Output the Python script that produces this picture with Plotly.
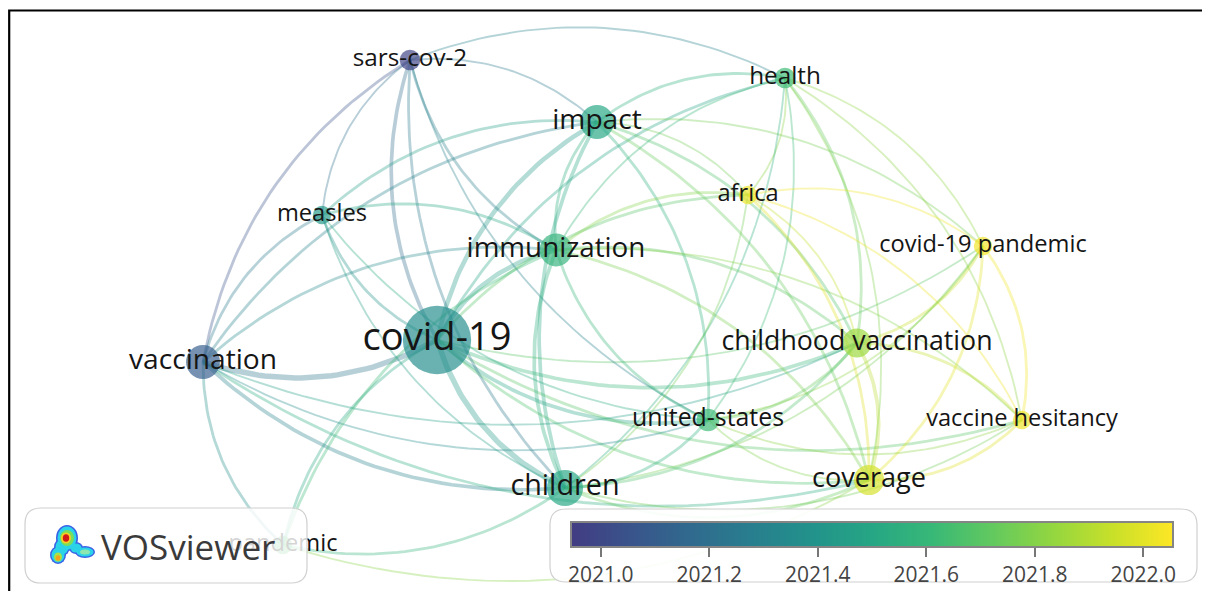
import numpy as np
import plotly.graph_objects as go
from plotly.colors import sample_colorscale

# ---------------- data ----------------
keywords = ["sars-cov-2", "health", "impact", "africa", "measles", "covid-19 pandemic",
            "immunization", "covid-19", "childhood vaccination", "vaccination",
            "united-states", "vaccine hesitancy", "coverage", "children", "pandemic"]
map_x = [410, 785, 597, 748, 322, 983, 556, 437, 857, 203, 708, 1022, 869, 565, 283]
map_y = [60, 78, 122, 195, 215, 246, 250, 340, 343, 362, 420, 420, 480, 488, 545]
occurrences = [4, 4, 13, 3, 3, 3, 12, 60, 9, 13, 5, 3, 10, 15, 3]
avg_pub_year = [2020.98, 2021.62, 2021.5, 2022.02, 2021.42, 2022.03, 2021.58, 2021.36,
                2021.85, 2021.1, 2021.62, 2022.02, 2021.97, 2021.5, 2021.66]

edge_from = ["covid-19"] * 14 + ["vaccination"] * 9 + ["sars-cov-2"] * 6 + ["impact"] * 9 \
    + ["health"] * 8 + ["immunization"] * 8 + ["africa"] * 5 + ["covid-19 pandemic"] * 5 \
    + ["childhood vaccination"] * 4 + ["vaccine hesitancy"] * 3 + ["coverage"] * 3 \
    + ["children"] * 2 + ["measles"] * 2
edge_to = ["sars-cov-2", "impact", "measles", "immunization", "vaccination", "children",
           "united-states", "childhood vaccination", "coverage", "health", "africa",
           "pandemic", "vaccine hesitancy", "covid-19 pandemic",
           "sars-cov-2", "measles", "impact", "immunization", "children", "coverage",
           "pandemic", "united-states", "childhood vaccination",
           "impact", "immunization", "children", "health", "united-states", "measles",
           "health", "immunization", "children", "measles", "united-states", "africa",
           "childhood vaccination", "coverage", "covid-19 pandemic",
           "immunization", "africa", "childhood vaccination", "coverage",
           "covid-19 pandemic", "vaccine hesitancy", "children", "united-states",
           "children", "united-states", "measles", "childhood vaccination", "coverage",
           "africa", "pandemic", "vaccine hesitancy",
           "childhood vaccination", "coverage", "covid-19 pandemic", "children",
           "vaccine hesitancy",
           "childhood vaccination", "coverage", "vaccine hesitancy", "children",
           "united-states",
           "coverage", "vaccine hesitancy", "united-states", "children",
           "coverage", "children", "united-states",
           "children", "united-states", "pandemic",
           "united-states", "pandemic",
           "united-states", "children"]
edge_weight = [3, 4, 2, 4, 5, 5, 3, 3, 2, 2, 2, 2, 2, 1,
               2, 2, 2, 2, 3, 2, 2, 1, 1,
               1, 2, 2, 1, 1, 1,
               2, 2, 3, 2, 2, 1, 2, 2, 1,
               1, 1, 2, 1, 1, 1, 1, 1,
               3, 2, 2, 2, 2, 2, 2, 1,
               1, 2, 1, 1, 1,
               2, 2, 2, 1, 1,
               3, 2, 2, 2,
               2, 1, 1,
               2, 1, 1,
               2, 2,
               1, 1]

colorbar_ticks = [2021.0, 2021.2, 2021.4, 2021.6, 2021.8, 2022.0]
colorbar_ticktext = ["2021.0", "2021.2", "2021.4", "2021.6", "2021.8", "2022.0"]

# ---------------- styling ----------------
CMIN, CMAX = 2020.945, 2022.055
W, H = 1210, 591
OFF = 8  # page body margin: data coords == page pixels
vir_pos = np.linspace(0.18, 1.0, 11)
vir_cols = sample_colorscale("Viridis", list(vir_pos))
cscale = [[float(i / 10), c] for i, c in enumerate(vir_cols)]


def color_for(year, alpha):
    s = min(max((year - CMIN) / (CMAX - CMIN), 0), 1)
    c = sample_colorscale(cscale, [s])[0]
    rgb = c[c.index("(") + 1:c.index(")")].split(",")
    r, g, b = [int(float(v)) for v in rgb]
    return f"rgba({r},{g},{b},{alpha})"


idx = {k: i for i, k in enumerate(keywords)}
center = np.array([610.0, 300.0])

fig = go.Figure()

# edges (curved)
t = np.linspace(0, 1, 40)
for a, b, w in zip(edge_from, edge_to, edge_weight):
    i, j = idx[a], idx[b]
    p0 = np.array([map_x[i], map_y[i]], float)
    p2 = np.array([map_x[j], map_y[j]], float)
    d = p2 - p0
    L = np.hypot(*d)
    n = np.array([-d[1], d[0]]) / L
    m = (p0 + p2) / 2
    if np.dot(m - center, n) < 0:
        n = -n
    p1 = m + n * 0.22 * L
    xs = (1 - t) ** 2 * p0[0] + 2 * (1 - t) * t * p1[0] + t ** 2 * p2[0]
    ys = (1 - t) ** 2 * p0[1] + 2 * (1 - t) * t * p1[1] + t ** 2 * p2[1]
    yr = (avg_pub_year[i] + avg_pub_year[j]) / 2
    fig.add_trace(go.Scatter(x=xs, y=ys, mode="lines", hoverinfo="skip", showlegend=False,
                             line=dict(color=color_for(yr, 0.34), width=1.0 + 0.9 * w)))

# nodes
sizes = [4 + 8.3 * np.sqrt(o) for o in occurrences]
fig.add_trace(go.Scatter(
    x=map_x, y=map_y, mode="markers", showlegend=False,
    marker=dict(size=sizes, color=avg_pub_year, colorscale=cscale, cmin=CMIN, cmax=CMAX,
                opacity=0.68, line=dict(width=0),
                colorbar=dict(orientation="h", x=(872 - OFF) / W, xanchor="center",
                              y=(H - (522 - OFF)) / H, yanchor="top", len=602,
                              lenmode="pixels", thickness=25, thicknessmode="pixels",
                              xpad=0, ypad=0,
                              outlinecolor="#858585", outlinewidth=2,
                              tickvals=colorbar_ticks, ticktext=colorbar_ticktext,
                              ticks="outside", ticklen=9, tickwidth=1.5, tickcolor="#777",
                              tickfont=dict(family="Open Sans", size=21, color="#444"))),
    text=keywords, hoverinfo="text"))

# labels
font_sizes = [19.5 + 2.4 * np.sqrt(o) for o in occurrences]
fig.add_trace(go.Scatter(
    x=map_x, y=map_y, mode="text", text=keywords, textposition="middle center",
    showlegend=False, hoverinfo="skip",
    textfont=dict(family="Open Sans", size=font_sizes, color="#151515")))


def rrect(x0, y0, x1, y1, r):
    return (f"M{x0+r},{y0} L{x1-r},{y0} Q{x1},{y0} {x1},{y0+r} L{x1},{y1-r} "
            f"Q{x1},{y1} {x1-r},{y1} L{x0+r},{y1} Q{x0},{y1} {x0},{y1-r} "
            f"L{x0},{y0+r} Q{x0},{y0} {x0+r},{y0} Z")


shapes = [
    dict(type="path", path=rrect(25, 508, 307, 583, 16), xref="x", yref="y", layer="above",
         fillcolor="rgba(255,255,255,0.82)", line=dict(color="#d0d0d0", width=1.2)),
    dict(type="path", path=rrect(550, 509, 1197, 582, 16), xref="x", yref="y", layer="above",
         fillcolor="rgba(255,255,255,0.9)", line=dict(color="#d0d0d0", width=1.2)),
    dict(type="rect", xref="paper", yref="paper", x0=1.2 / W, x1=1.02,
         y0=-0.05, y1=(H - 2.5) / H, line=dict(color="black", width=2.2), layer="above"),
]
# VOSviewer density logo blobs (outer blue -> cyan -> green -> yellow -> red)
logo = [
    (67, 538, 11, 13, "#3a62e6"), (58, 555, 8, 9, "#3a62e6"), (62, 547, 8, 9, "#3a62e6"),
    (76, 548, 7, 6, "#3a62e6"), (85, 552, 10, 6, "#3a62e6"),
    (67, 538, 9.5, 11.5, "#2ad3e8"), (58, 555, 6.5, 7.5, "#2ad3e8"),
    (62, 547, 6.5, 7.5, "#2ad3e8"), (76, 548, 5.5, 4.5, "#2ad3e8"),
    (85, 552, 8.5, 4.5, "#2ad3e8"),
    (67, 538, 7, 8, "#78df5c"), (58, 557, 4, 4.5, "#a7e346"), (85, 552, 5, 2.5, "#8fe7b0"),
    (66, 538, 5, 5.5, "#f6cf24"), (58, 558, 2.4, 2.8, "#f4a41c"),
    (66, 538, 3.2, 3.8, "#d21a16"),
]
for cx, cy, rx, ry, col in logo:
    shapes.append(dict(type="circle", xref="x", yref="y", layer="above",
                       x0=cx - rx, x1=cx + rx, y0=cy - ry, y1=cy + ry,
                       fillcolor=col, line=dict(width=0)))

fig.update_layout(
    width=W, height=H, margin=dict(l=0, r=0, t=0, b=0),
    paper_bgcolor="white", plot_bgcolor="white",
    xaxis=dict(range=[OFF, W + OFF], visible=False, fixedrange=True),
    yaxis=dict(range=[H + OFF, OFF], visible=False, fixedrange=True),
    shapes=shapes,
    annotations=[dict(x=99, y=546, xref="x", yref="y", text="VOSviewer", showarrow=False,
                      xanchor="left", yanchor="middle",
                      font=dict(family="Open Sans", size=35, color="#3a3a3a"))],
)

fig.write_html("out.html")
